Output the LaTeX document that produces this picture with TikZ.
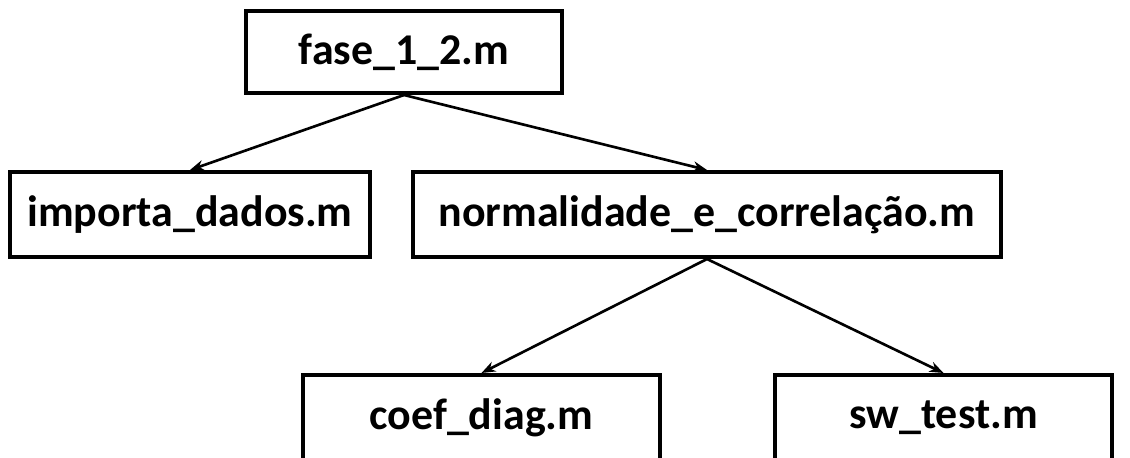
\documentclass[tikz,border=0pt]{standalone}
\usepackage{fontspec}
\setmainfont{Carlito}
\usetikzlibrary{arrows.meta}
\tikzstyle{box} = [draw,line width=2.3pt,inner sep=0pt,font=\fontsize{25}{30}\selectfont\bfseries]
\tikzstyle{arrow} = [line width=1.5pt,-{Stealth[length=8pt,width=6pt]}]

\begin{document}
\begin{tikzpicture}[x=0.02cm,y=-0.02cm]

	%% frame of the picture (bottom boxes run off the page)
	\useasboundingbox (0,0) rectangle (1130,457);
	\clip (0,0) rectangle (1130,457);

	%% top level
	\node[box,minimum width=6.32cm,minimum height=1.64cm] (fase) at (404,52) {fase\_1\_2.m};

	%% second level
	\node[box,minimum width=7.2cm,minimum height=1.7cm] (importa) at (190,214.5) {importa\_dados.m};
	\node[box,minimum width=11.76cm,minimum height=1.7cm] (normal) at (707,214.5) {normalidade\_e\_correlação.m};

	%% third level
	\node[box,minimum width=7.14cm,minimum height=1.72cm] (coef) at (481.5,418) {coef\_diag.m};
	\node[box,minimum width=6.74cm,minimum height=1.72cm] (sw) at (943.5,418) {sw\_test.m};

	%% calls
	\draw[arrow] (fase.south) -- (importa.north);
	\draw[arrow] (fase.south) -- (normal.north);
	\draw[arrow] (normal.south) -- (coef.north);
	\draw[arrow] (normal.south) -- (sw.north);
\end{tikzpicture}
\end{document}
